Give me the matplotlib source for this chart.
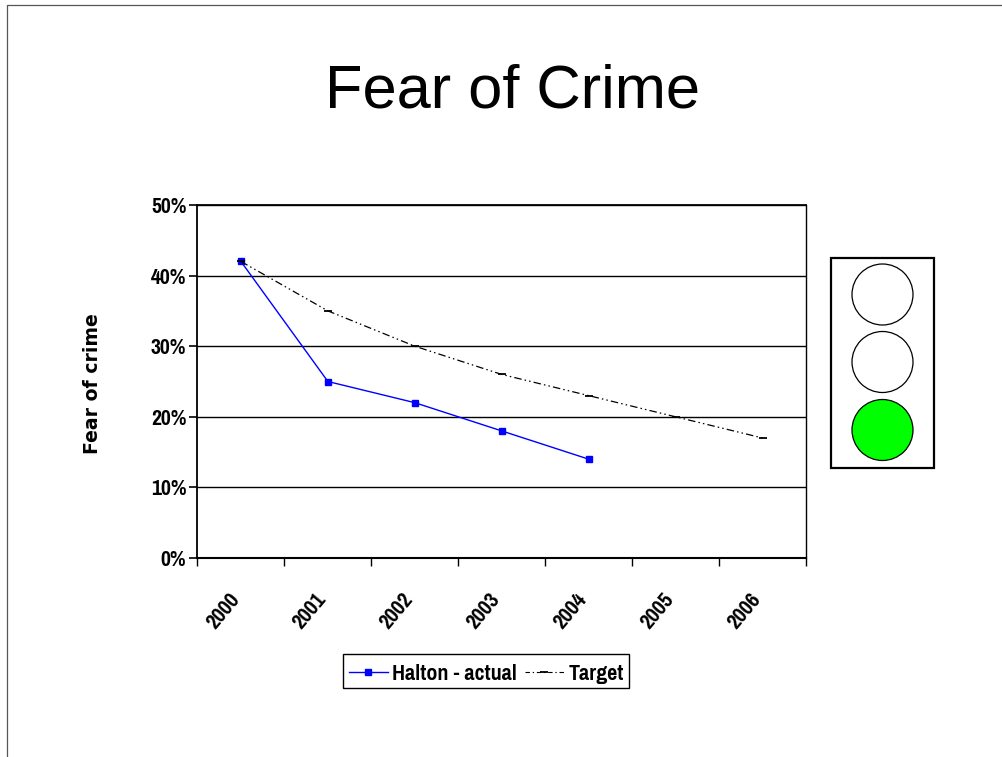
import matplotlib
matplotlib.use("Agg")
import matplotlib.pyplot as plt
from matplotlib.patches import Rectangle, Ellipse
from matplotlib.lines import Line2D
from matplotlib import font_manager as fm

W, H = 1003, 757
years = ["2000", "2001", "2002", "2003", "2004", "2005", "2006"]
actual = [42, 25, 22, 18, 14]
target = [42, 35, 30, 26, 23, 20, 17]
yticks = [0, 10, 20, 30, 40, 50]
lights = ["white", "white", "#00ff00"]

names = {f.name for f in fm.fontManager.ttflist}
narrow = "Pragati Narrow" if "Pragati Narrow" in names else "Liberation Sans"

fig = plt.figure(figsize=(W / 100, H / 100), dpi=100, facecolor="white")

def fx(x): return x / W
def fy(y): return 1 - y / H

# page frame
fig.add_artist(Line2D([fx(7.5), fx(7.5), fx(1003)], [fy(757), fy(4.5), fy(4.5)], color="#555555", lw=0.9))
fig.text(fx(513), fy(108), "Fear of Crime", family="Liberation Sans", fontsize=44.2,
         ha="center", va="baseline", color="black")

ax = fig.add_axes([fx(197.5), fy(558), fx(806 - 197.5), fy(205) - fy(558)])
xs = list(range(len(years)))
ax.set_xlim(-0.5, 6.5)
ax.set_ylim(0, 50)
ax.set_yticks(yticks)
ax.set_yticklabels([f"{v}%" for v in yticks], family=narrow, fontweight="bold", fontsize=17)
ax.set_xticks([i - 0.5 for i in range(len(years) + 1)])
ax.set_xticklabels([""] * (len(years) + 1))
ax.grid(axis="y", color="black", lw=1.0)
ax.set_axisbelow(True)
ax.tick_params(axis="y", length=6, width=1.2, pad=2)
ax.tick_params(axis="x", length=6, width=1.0, direction="out")
for s in ax.spines.values():
    s.set_color("black"); s.set_linewidth(1.0)
ax.spines["left"].set_linewidth(1.3)
ax.spines["bottom"].set_linewidth(1.5)
ax.spines["top"].set_linewidth(1.3)

for i, lab in enumerate(years):
    ax.annotate(lab, (i, 0), xytext=(-13, -38), textcoords="offset points", family=narrow,
                fontweight="bold", fontsize=17, rotation=50, ha="center", va="center",
                rotation_mode="anchor", annotation_clip=False)

tgt_style = (0, (6, 2.5, 1.2, 2.5, 1.2, 2.5))
ax.plot(xs, target, color="black", lw=0.9, ls=tgt_style, marker="_", ms=6, mew=1.3, zorder=3, clip_on=False)
ax.plot(xs[:5], actual, color="#0000ff", lw=1.0, marker="s", ms=5, mec="#0000ff", zorder=2, clip_on=False)

fig.text(fx(93), fy(384), "Fear of crime", family="DejaVu Sans", fontweight="bold", fontsize=13.6,
         rotation=90, ha="center", va="center")

# legend box
fig.add_artist(Rectangle((fx(343.5), fy(688)), fx(285), fy(653.5) - fy(688), transform=fig.transFigure,
                         fc="white", ec="black", lw=1.0))
fig.add_artist(Line2D([fx(349), fx(388)], [fy(671.5)] * 2, color="#0000ff", lw=1.0))
fig.add_artist(Line2D([fx(368)], [fy(671.5)], color="#0000ff", marker="s", ms=5, ls="none"))
fig.text(fx(392), fy(673.5), "Halton - actual", family=narrow, fontweight="bold", fontsize=17.3, ha="left", va="center")
fig.add_artist(Line2D([fx(525), fx(564)], [fy(671.5)] * 2, color="black", lw=0.8, ls=(0, (4, 2.5, 1.2, 2.5))))
fig.add_artist(Line2D([fx(544)], [fy(671.5)], color="black", marker="_", ms=6, mew=1.3, ls="none"))
fig.text(fx(569), fy(673.5), "Target", family=narrow, fontweight="bold", fontsize=17.3, ha="left", va="center")

# traffic light
fig.add_artist(Rectangle((fx(831.5), fy(467.5)), fx(102), fy(257.5) - fy(467.5), transform=fig.transFigure,
                         fc="white", ec="black", lw=1.6))
for cy, c in zip([294.5, 362, 430], lights):
    fig.add_artist(Ellipse((fx(882.5), fy(cy)), fx(61), fy(0) - fy(61), transform=fig.transFigure,
                           fc=c, ec="black", lw=0.9))

fig.savefig("out.png", dpi=100)
